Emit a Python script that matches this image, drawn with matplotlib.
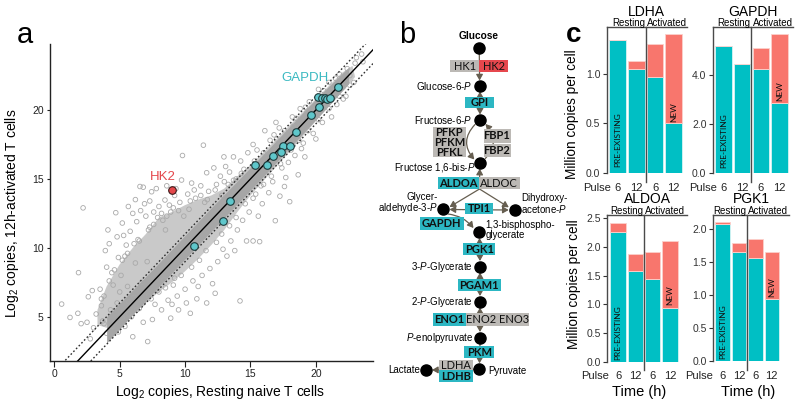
import matplotlib
matplotlib.use('Agg')
import matplotlib.pyplot as plt
from matplotlib.patches import Rectangle, Polygon
from matplotlib.transforms import blended_transform_factory
import numpy as np

plt.rcParams['font.family'] = ['Liberation Sans', 'DejaVu Sans']
plt.rcParams['mathtext.fontset'] = 'custom'
plt.rcParams['mathtext.rm'] = 'Liberation Sans'
plt.rcParams['mathtext.it'] = 'Liberation Sans:italic'

# ======================= DATA =======================
# --- panel a: log2 copies, resting (x) vs 12h activated (y)
grey_x = [0.56, 1.2, 1.8, 2.05, 2.5, 1.85, 2.2, 2.75, 2.6, 3.2, 2.9, 3.0,
          4.0, 4.1, 4.7, 4.0, 3.5, 3.8, 4.3, 4.5, 3.9, 4.4, 4.8, 4.6, 4.2, 4.9, 3.6, 4.8, 4.9, 3.7,
          5.66, 6.2, 6.0, 6.8, 6.55, 5.4, 5.3, 6.0, 5.2, 5.5, 5.8, 6.3, 6.6, 5.1, 5.6, 6.1, 6.5, 5.9,
          6.8, 5.4, 6.9, 6.4, 5.0, 5.7, 6.2, 6.7, 5.3,
          7.44, 7.14, 8.46, 8.0, 7.6, 8.3, 7.3, 7.9, 8.9, 8.2, 7.7, 7.5, 8.7, 8.0, 7.2, 8.5, 7.0, 8.8,
          7.8, 8.6, 7.4, 8.4, 7.1, 8.9, 7.3,
          9.73, 9.8, 10.5, 9.5, 10.4, 9.2, 9.6, 10.2, 10.8, 9.4, 10.0, 10.6, 10.9, 9.1, 10.3, 9.9, 9.3,
          10.7, 9.0, 10.1,
          11.4, 11.65, 11.65, 12.3, 11.2, 11.8, 12.4, 12.8, 11.3, 11.9, 12.5, 12.1, 11.0, 12.7, 11.5,
          12.9, 13.0, 12.2,
          12.97, 13.7, 14.25, 13.2, 14.2, 14.7, 13.4, 13.9, 14.5, 14.8, 13.5, 14.0, 14.4, 13.8, 14.9, 13.1,
          15.2, 15.2, 15.7, 16.1, 16.9, 15.5, 16.5, 15.9, 16.4, 16.7, 15.6, 16.8, 15.4, 16.0,
          16.95, 18.27, 17.25, 17.6, 18.0, 18.65, 19.04, 19.16, 17.4, 17.9, 18.4, 17.2, 18.2, 18.8, 17.7, 18.9,
          21.2, 22.1, 22.1, 22.6, 23.5, 23.6, 22.3, 21.6, 20.8, 19.5, 20.2, 20.5, 21.0, 19.8, 20.0, 23.0,
          22.9, 21.8, 19.3,
          3.6, 4.2, 4.6, 5.2, 5.6, 6.1, 6.5, 7.2, 7.6, 8.2, 8.6, 9.1, 9.5, 10.4, 11.2, 11.7, 12.3, 13.3,
          13.7, 14.3, 15.3, 16.0, 17.0, 17.6, 18.5, 19.2, 20.6, 21.5, 22.4, 23.1,
          3.8, 4.4, 5.2, 5.7, 6.3, 6.8, 7.4, 7.9, 8.5, 9.2, 9.7, 10.5, 11.1, 11.6, 12.4, 12.8, 13.4, 13.9,
          14.6, 15.2, 15.8, 16.6, 17.3, 18.1, 18.7, 19.4, 20.2, 21.0, 21.8, 22.6]
grey_y = [5.92, 4.95, 5.25, 4.5, 4.6, 8.2, 12.9, 3.4, 6.45, 5.2, 6.9, 4.2,
          3.8, 11.3, 12.55, 8.6, 7.0, 6.5, 5.5, 7.3, 9.8, 8.2, 6.0, 4.6, 10.3, 9.3, 5.8, 10.8, 3.9, 4.7,
          13.0, 13.5, 12.5, 14.4, 14.45, 4.3, 5.4, 3.55, 11.8, 10.2, 11.2, 11.9, 12.7, 8.0, 7.2, 6.4, 5.6, 5.0,
          4.6, 9.4, 13.2, 10.6, 6.8, 6.1, 8.9, 7.5, 10.9,
          14.07, 3.2, 13.47, 13.0, 12.6, 12.0, 11.5, 12.2, 4.9, 5.5, 5.9, 4.8, 6.2, 6.8, 6.5, 11.3, 12.3, 13.1,
          14.3, 14.5, 7.4, 7.7, 9.0, 12.6, 13.4,
          14.92, 16.7, 14.7, 5.5, 5.25, 13.8, 13.3, 13.9, 13.6, 6.5, 7.0, 7.6, 6.3, 7.3, 12.8, 12.3, 14.3,
          14.2, 5.9, 6.0,
          17.45, 15.45, 6.0, 6.7, 14.5, 14.1, 14.6, 13.8, 8.0, 8.5, 9.0, 7.4, 7.2, 15.2, 13.3,
          9.9, 14.8, 15.8,
          16.6, 16.6, 16.3, 9.4, 6.15, 10.5, 15.5, 15.0, 15.7, 16.9, 10.5, 11.3, 12.0, 9.8, 12.6, 15.9,
          17.5, 10.5, 10.45, 18.5, 11.97, 17.1, 17.8, 13.2, 14.0, 14.8, 12.3, 18.2, 13.9, 14.6,
          19.1, 18.8, 13.75, 14.45, 13.35, 15.3, 17.6, 16.6, 15.8, 16.2, 16.7, 18.7, 19.5, 20.1, 15.1, 17.2,
          19.5, 20.8, 21.7, 22.5, 24.06, 23.5, 21.0, 20.4, 20.4, 20.6, 21.5, 19.1, 22.0, 18.3, 17.9, 23.4,
          22.0, 22.6, 19.8,
          6.3, 7.6, 8.4, 9.1, 9.6, 10.3, 10.5, 11.3, 11.7, 12.5, 12.3, 12.9, 12.7, 13.4, 13.8, 13.5, 14.2, 14.6,
          14.9, 15.4, 16.3, 16.9, 17.9, 18.5, 19.4, 20.2, 21.4, 22.3, 23.0, 23.8,
          4.5, 4.3, 4.9, 5.2, 5.5, 6.0, 6.3, 6.9, 7.1, 7.8, 8.0, 8.6, 9.1, 9.8, 10.4, 11.0, 11.6, 12.2,
          13.2, 13.6, 14.5, 15.2, 16.1, 17.1, 17.8, 18.5, 19.3, 20.1, 21.0, 21.8]
# outline of the densely populated part of the cloud
cloud_x = [3.3, 4.0, 5.0, 6.0, 7.0, 8.0, 9.0, 10.0, 11.0, 12.0, 13.0, 14.0, 15.0, 16.5, 18.0, 20.0, 22.0, 22.8,
           23.0, 22.0, 20.0, 18.0, 16.5, 15.0, 14.0, 13.0, 12.0, 11.0, 10.0, 9.0, 8.0, 7.0, 6.0, 5.0, 4.0, 3.3]
cloud_y = [5.5, 7.2, 8.8, 10.0, 11.0, 12.2, 12.6, 13.1, 13.5, 13.8, 14.3, 15.2, 16.0, 17.4, 18.9, 20.8, 22.7, 23.2,
           22.4, 21.3, 19.2, 17.0, 15.4, 13.8, 12.6, 11.3, 10.2, 9.2, 8.3, 7.5, 6.8, 6.0, 5.2, 4.6, 4.2, 4.4]
band_x = [4.0, 8.0, 12.0, 16.0, 20.0, 22.5]
band_lo = [3.1, 7.2, 11.2, 15.2, 19.3, 21.9]
band_hi = [5.0, 8.9, 12.9, 16.8, 20.8, 23.1]
# glycolytic enzymes (cyan) and HK2 (red)
glyco_x = [21.71, 20.18, 20.45, 20.7, 20.85, 21.05, 20.26, 19.6, 18.48, 17.5, 18.02, 17.33, 16.74, 15.32,
           16.26, 13.41, 12.9, 10.66]
glyco_y = [21.67, 20.92, 20.88, 20.9, 20.82, 20.86, 20.24, 19.64, 18.4, 17.41, 17.41, 16.98, 16.66, 16.03,
           15.99, 13.37, 11.92, 10.15]
hk2_x, hk2_y = 9.0, 14.17

# --- panel c: million copies per cell
pulse_labels = ['6', '12', '6', '12']
gene_names = ['LDHA', 'GAPDH', 'ALDOA', 'PGK1']
ldha_pre = [1.34, 1.055, 0.967, 0.50]
ldha_new = [0.0, 0.075, 0.335, 0.905]
gapdh_pre = [5.18, 4.44, 4.23, 2.83]
gapdh_new = [0.0, 0.0, 0.87, 2.82]
aldoa_pre = [2.27, 1.58, 1.44, 0.94]
aldoa_new = [0.145, 0.295, 0.47, 1.17]
pgk1_pre = [2.09, 1.65, 1.56, 0.94]
pgk1_new = [0.027, 0.15, 0.29, 0.71]

# --- panel b: pathway
metabolites = ['Glucose', 'Glucose-6-$\\it{P}$', 'Fructose-6-$\\it{P}$', 'Fructose 1,6-bis-$\\it{P}$',
               'Glycer-\naldehyde-3-$\\it{P}$', 'Dihydroxy-\nacetone-$\\it{P}$', '1,3-bisphospho-\nglycerate',
               '3-$\\it{P}$-Glycerate', '2-$\\it{P}$-Glycerate', '$\\it{P}$-enolpyruvate', 'Pyruvate', 'Lactate']
enzymes = ['HK1', 'HK2', 'GPI', 'PFKP', 'PFKM', 'PFKL', 'FBP1', 'FBP2', 'ALDOA', 'ALDOC', 'TPI1', 'GAPDH',
           'PGK1', 'PGAM1', 'ENO1', 'ENO2 ENO3', 'PKM', 'LDHA', 'LDHB']
enzyme_class = ['low', 'up', 'high', 'low', 'low', 'low', 'low', 'low', 'high', 'low', 'high', 'high',
                'high', 'high', 'high', 'low', 'high', 'low', 'high']

# ======================= FIGURE =======================
W, H = 800, 408
fig = plt.figure(figsize=(8, 4.08), dpi=100)


def fx(px):
    return px / W


def fy(py):
    return 1 - py / H


def axrect(l, t, r, b):
    return [l / W, 1 - b / H, (r - l) / W, (b - t) / H]


# ---------------- panel a ----------------
ax = fig.add_axes(axrect(50, 44, 373, 361))
ax.set_xlim(-0.33, 24.37)
ax.set_ylim(1.79, 24.79)
ax.add_patch(Polygon(list(zip(cloud_x, cloud_y)), closed=True, fc='#c9c9c9', ec='none', zorder=1))
ax.fill_between(band_x, band_lo, band_hi, color='#a6a6a6', lw=0, zorder=1.5)
ax.scatter(grey_x, grey_y, s=11, facecolors='none', edgecolors='#a9a9a9', linewidths=0.6, zorder=2)
ref = np.array([-1.0, 26.0])
ax.plot(ref, ref, color='black', lw=1.0, zorder=3)
ax.plot(ref, ref + 1, color='#303030', lw=1.0, ls=(0, (1.2, 1.6)), zorder=3)
ax.plot(ref, ref - 1, color='#303030', lw=1.0, ls=(0, (1.2, 1.6)), zorder=3)
ax.scatter(glyco_x, glyco_y, s=30, fc='#5fc7cb', ec='#1e3b3c', lw=0.8, zorder=4)
ax.scatter([hk2_x], [hk2_y], s=30, fc='#e4474b', ec='#3a1818', lw=0.8, zorder=4)
ax.text(8.33, 15.16, 'HK2', color='#e4474b', fontsize=9.5, ha='center', va='center')
ax.text(19.17, 22.34, 'GAPDH', color='#3ab9c1', fontsize=9.5, ha='center', va='center')
for s in ['top', 'right']:
    ax.spines[s].set_visible(False)
for s in ['left', 'bottom']:
    ax.spines[s].set_color('#222222')
    ax.spines[s].set_linewidth(1.0)
ax.set_xticks([0, 5, 10, 15, 20])
ax.set_yticks([5, 10, 15, 20])
ax.tick_params(axis='x', direction='out', length=4, width=0.8, labelsize=7.5, pad=2, colors='#222222')
ax.tick_params(axis='y', direction='out', length=2.5, width=0.8, labelsize=7.5, pad=2, colors='#222222')
fig.text(fx(220), fy(391.7), 'Log$_2$ copies, Resting naive T cells', fontsize=10, ha='center', va='center')
fig.text(fx(12.3), fy(213), 'Log$_2$ copies, 12h-activated T cells', fontsize=10, ha='center', va='center',
         rotation=90)
fig.text(fx(25), fy(43.3), 'a', fontsize=21, ha='center', va='baseline')

# ---------------- panel b ----------------
axb = fig.add_axes([380 / W, 0, 180 / W, 1])
axb.set_xlim(380, 560)
axb.set_ylim(408, 0)
axb.axis('off')
fig.text(fx(407.5), fy(43.3), 'b', fontsize=21, ha='center', va='baseline')

acol = '#665e50'
box_colors = {'low': '#bcb9b5', 'up': '#e6474d', 'high': '#2cb7c3'}
dot_xy = [(479, 47.7), (480, 86), (480, 120), (480, 162.7), (443.3, 209.3), (515, 210), (479.3, 232.3),
          (480, 266.7), (480, 301.7), (480, 337.7), (479.3, 369), (426, 370)]
label_xy = [(479, 35.7, 'center'), (472.5, 86, 'right'), (472.5, 120, 'right'), (476, 168, 'right'),
            (437.5, 203.5, 'right'), (521, 204, 'left'), (485.5, 230, 'left'), (472.7, 266.7, 'right'),
            (472.7, 301.7, 'right'), (472.7, 337.7, 'right'), (488.3, 371, 'left'), (420, 370, 'right')]
met_family = ['Liberation Sans Narrow', 'Liberation Sans', 'DejaVu Sans']
for name, (lx, ly, ha) in zip(metabolites, label_xy):
    if name == 'Glucose':
        axb.text(lx, ly, name, fontsize=7.3, fontweight='bold', ha=ha, va='center', family=met_family)
    else:
        axb.text(lx, ly, name, fontsize=7, ha=ha, va='center', family=met_family, linespacing=0.95,
                 multialignment=ha if ha != 'center' else 'center')
axb.plot([p[0] for p in dot_xy], [p[1] for p in dot_xy], 'o', ms=8, color='black', ls='none', zorder=5)

box_rects = [(450, 479.3, 60, 71.7), (479.3, 508.3, 60, 71.7), (465, 494, 96.7, 107.7),
             (433.3, 465.5, 127.2, 137.1), (433.3, 465.5, 137.1, 147.0), (433.3, 465.5, 147.0, 157.0),
             (483.5, 510.5, 128.5, 142.5), (483.5, 510.5, 144.0, 156.5),
             (438, 478.8, 177, 189), (478.8, 519.5, 177, 189), (465, 493.3, 202.7, 214.3),
             (420, 463.5, 217, 229.5), (463.3, 495, 243.3, 255), (457.7, 501, 279, 290.5),
             (433.3, 465.7, 313.3, 326), (465.7, 529.3, 313.3, 326), (464.3, 494, 345.7, 357.7),
             (439.3, 472.5, 360, 370), (439.3, 472.5, 370, 382.3)]
bold_names = {'GPI', 'PFKP', 'PFKM', 'PFKL', 'FBP1', 'FBP2', 'ALDOA', 'TPI1', 'GAPDH', 'PGK1', 'PGAM1',
              'ENO1', 'PKM', 'LDHB'}
for name, cls, (x0, x1, y0, y1) in zip(enzymes, enzyme_class, box_rects):
    axb.add_patch(Rectangle((x0, y0), x1 - x0, y1 - y0, fc=box_colors[cls], ec='none', zorder=3))
    axb.text((x0 + x1) / 2, (y0 + y1) / 2 + 0.3, name, fontsize=8, family=['Lato', 'DejaVu Sans'],
             fontweight='bold' if name in bold_names else 'normal', color='#111111',
             ha='center', va='center', zorder=4)

arrows = [((479.3, 53.5), (479.6, 80.5), '-|>', 0.0),
          ((480, 91.5), (480, 114.5), '<|-|>', 0.0),
          ((475.0, 124.5), (474.3, 159.5), '-|>', 0.45),
          ((485.3, 158.5), (485.5, 124.0), '-|>', 0.45),
          ((479.6, 177), (479.8, 168.7), '-|>', 0.0),
          ((479.5, 189), (449.5, 207), '-|>', 0.0),
          ((479.5, 189), (508.8, 207.3), '-|>', 0.0),
          ((449.5, 209.5), (508.7, 210), '<|-|>', 0.0),
          ((448, 214), (473.5, 228.0), '-|>', -0.2),
          ((479.5, 238), (480, 261), '<|-|>', 0.0),
          ((480, 272.5), (480, 296), '<|-|>', 0.0),
          ((480, 307.5), (480, 332), '<|-|>', 0.0),
          ((480, 343.5), (479.5, 363.3), '-|>', 0.0),
          ((473.5, 369.3), (432, 370), '-|>', 0.0)]
for (x0, y0), (x1, y1), st, rad in arrows:
    axb.annotate('', xy=(x1, y1), xytext=(x0, y0),
                 arrowprops=dict(arrowstyle=st + ',head_length=0.35,head_width=0.2', color=acol, lw=0.9,
                                 shrinkA=0, shrinkB=0, mutation_scale=10,
                                 connectionstyle='arc3,rad=%g' % rad), zorder=2)

# ---------------- panel c ----------------
cyan = '#00bfc4'
salmon = '#f8766d'
lc = '#4a4a4a'
panel_defs = [
    ('LDHA', ldha_pre, ldha_new, (606.7, 27.3, 686.7, 172.7), (-0.588, 3.695), 1.473, [0.0, 0.5, 1.0],
     597, 188.3, 182, 12, 0.618, 167),
    ('GAPDH', gapdh_pre, gapdh_new, (712.7, 27.3, 793.3, 172.7), (-0.567, 3.74), 5.93, [0.0, 2.0, 4.0],
     703.3, 188.3, 182, 12, 3.32, 168),
    ('ALDOA', aldoa_pre, aldoa_new, (607.3, 215, 686.7, 361.7), (-0.62, 3.97), 2.56,
     [0.0, 0.5, 1.0, 1.5, 2.0, 2.5], 595.3, 375.7, 370, 199, 1.17, 359.5),
    ('PGK1', pgk1_pre, pgk1_new, (713.3, 215, 789.3, 361), (-0.56, 4.07), 2.22,
     [0.0, 0.5, 1.0, 1.5, 2.0], 699, 375.7, 370, 199, 1.12, 359),
]
for gene, pre, new, (l, t, r, b), xl, ytop, yt, pulse_x, tick_y, sep_bot, title_y, new_y, pre_bot in panel_defs:
    axc = fig.add_axes(axrect(l, t, r, b))
    xs = np.arange(len(pulse_labels))
    axc.bar(xs, pre, width=0.88, color=cyan, ec='#d8f4f4', lw=0.6, zorder=2)
    axc.bar(xs, new, width=0.88, bottom=pre, color=salmon, ec='#fcd0cb', lw=0.6, zorder=2)
    axc.set_xlim(*xl)
    axc.set_ylim(0, ytop)
    axc.set_yticks(yt)
    axc.set_yticklabels(['%.1f' % v for v in yt])
    axc.set_xticks([])
    axc.tick_params(axis='y', direction='out', length=3, width=0.8, labelsize=7.5, pad=1.5,
                    colors='#333333')
    for s in ['right', 'bottom']:
        axc.spines[s].set_visible(False)
    for s in ['left', 'top']:
        axc.spines[s].set_color(lc)
        axc.spines[s].set_linewidth(1.0)
    trf = blended_transform_factory(axc.transData, fig.transFigure)
    axc.plot([1.5, 1.5], [fy(t), fy(sep_bot)], color=lc, lw=1.0, transform=trf, clip_on=False, zorder=3)
    for i, lab in enumerate(pulse_labels):
        axc.text(i, fy(tick_y), lab, transform=trf, fontsize=8, ha='center', va='center', color='#222222')
    fig.text(fx(pulse_x), fy(tick_y), 'Pulse', fontsize=8, ha='center', va='center', color='#222222')
    axc.text(1.45, fy(t + 0.6), 'Resting', transform=trf, fontsize=7, ha='right', va='bottom')
    axc.text(1.58, fy(t + 0.6), 'Activated', transform=trf, fontsize=7, ha='left', va='bottom')
    fig.text(fx((l + r) / 2), fy(title_y), gene, fontsize=10, ha='center', va='center')
    axc.text(0, fy(pre_bot), 'PRE-EXISTING', transform=trf, rotation=90, fontsize=6,
             family=['Lato', 'DejaVu Sans'], ha='center', va='bottom', color='#111111', zorder=4)
    axc.text(3, new_y, 'NEW', rotation=90, fontsize=6, family=['Lato', 'DejaVu Sans'],
             ha='center', va='center', color='#111111', zorder=4)

fig.text(fx(571.7), fy(114), 'Million copies per cell', fontsize=9.8, rotation=90, ha='center', va='center')
fig.text(fx(574), fy(284), 'Million copies per cell', fontsize=9.8, rotation=90, ha='center', va='center')
fig.text(fx(639.2), fy(391.7), 'Time (h)', fontsize=10.5, ha='center', va='center')
fig.text(fx(748.3), fy(391.7), 'Time (h)', fontsize=10.5, ha='center', va='center')
fig.text(fx(573.3), fy(41.5), 'c', fontsize=20, fontweight='bold', ha='center', va='baseline')

fig.savefig('out.png', dpi=100)
